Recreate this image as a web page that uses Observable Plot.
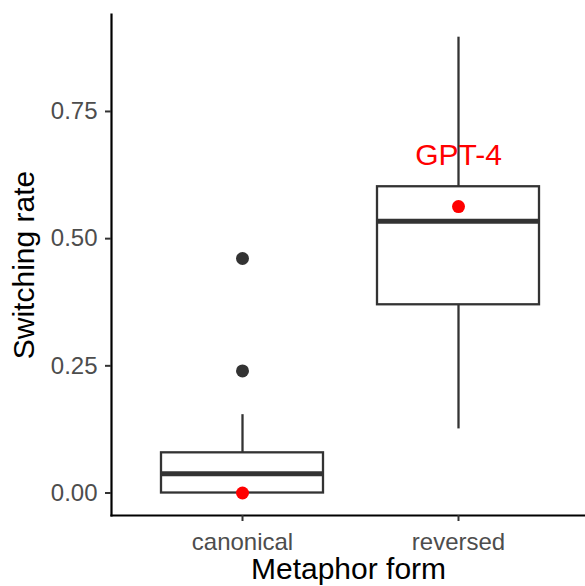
<!DOCTYPE html>
<html>
<head>
<meta charset="utf-8">
<script src="https://cdn.jsdelivr.net/npm/d3@7"></script>
<script src="https://cdn.jsdelivr.net/npm/@observablehq/plot@0.6"></script>
<style>
  html, body { margin: 0; padding: 0; background: #fff; }
  #chart svg { display: block; font-family: "Liberation Sans", Arial, sans-serif; }
</style>
</head>
<body>
<div id="chart"></div>
<script>
// ---- data ----
const forms = ["canonical", "reversed"];
const q1 = [0.000, 0.370];
const medians = [0.038, 0.534];
const q3 = [0.079, 0.602];
const whiskerLow = [0.000, 0.126];
const whiskerHigh = [0.154, 0.896];

const outlierForms = ["canonical", "canonical"];
const outlierValues = [0.240, 0.461];

const gptForms = ["canonical", "reversed"];
const gptValues = [0.000, 0.563];
const gptLabelForm = "reversed";
const gptLabel = "GPT-4";

const yTicks = [0, 0.25, 0.5, 0.75];
const xTitle = "Metaphor form";
const yTitle = "Switching rate";

// ---- tables built from the arrays ----
const boxes = forms.map((f, i) => ({
  form: f, q1: q1[i], median: medians[i], q3: q3[i], lo: whiskerLow[i], hi: whiskerHigh[i]
}));
const outliers = outlierForms.map((f, i) => ({form: f, value: outlierValues[i]}));
const gpt = gptForms.map((f, i) => ({form: f, value: gptValues[i]}));
const gptLabelRow = gpt.filter(d => d.form === gptLabelForm).map(d => ({...d, text: gptLabel}));

const W = 585, H = 586;
const mL = 111, mR = 0, mT = 14, mB = 71;
const boxColor = "#333333";

const chart = Plot.plot({
  width: W,
  height: H,
  marginLeft: mL,
  marginRight: mR,
  marginTop: mT,
  marginBottom: mB,
  style: {fontFamily: '"Liberation Sans", Arial, sans-serif', background: "#fff"},
  x: {type: "band", domain: forms, range: [mL, 588], paddingInner: 0.25, paddingOuter: 0.225, axis: null, label: null},
  y: {domain: [-0.0442, 0.9406], axis: null, label: null},
  marks: [
    // axis lines
    Plot.frame({anchor: "left", stroke: "black", strokeWidth: 2.2}),
    Plot.frame({anchor: "bottom", stroke: "black", strokeWidth: 2.2}),
    Plot.axisY({ticks: yTicks, tickFormat: d3.format(".2f"), tickSize: 6, tickPadding: 8,
      fontSize: 24, stroke: boxColor, strokeWidth: 2, fill: "#4D4D4D", label: null}),
    Plot.axisX({tickSize: 6, tickPadding: 11, fontSize: 24, stroke: boxColor, strokeWidth: 2,
      fill: "#4D4D4D", label: null}),
    // whiskers
    Plot.ruleX(boxes, {x: "form", y1: "q3", y2: "hi", stroke: boxColor, strokeWidth: 2.3}),
    Plot.ruleX(boxes, {x: "form", y1: "lo", y2: "q1", stroke: boxColor, strokeWidth: 2.3}),
    // boxes
    Plot.barY(boxes, {x: "form", y1: "q1", y2: "q3", fill: "white", stroke: boxColor, strokeWidth: 2.3}),
    Plot.tickY(boxes, {x: "form", y: "median", stroke: boxColor, strokeWidth: 5}),
    // outliers
    Plot.dot(outliers, {x: "form", y: "value", r: 6.5, fill: boxColor, stroke: null}),
    // GPT-4 points
    Plot.dot(gpt, {x: "form", y: "value", r: 6.5, fill: "red", stroke: null}),
    Plot.text(gptLabelRow, {x: "form", y: "value", text: "text", fill: "red", fontSize: 30, dy: -51}),
    // axis titles
    Plot.text([yTitle], {frameAnchor: "left", textAnchor: "middle", rotate: -90, fontSize: 30, fill: "black", dx: -87}),
    Plot.text([xTitle], {frameAnchor: "bottom", textAnchor: "middle", fontSize: 30, fill: "black", dy: 63})
  ]
});

document.getElementById("chart").appendChild(chart);
</script>
</body>
</html>
